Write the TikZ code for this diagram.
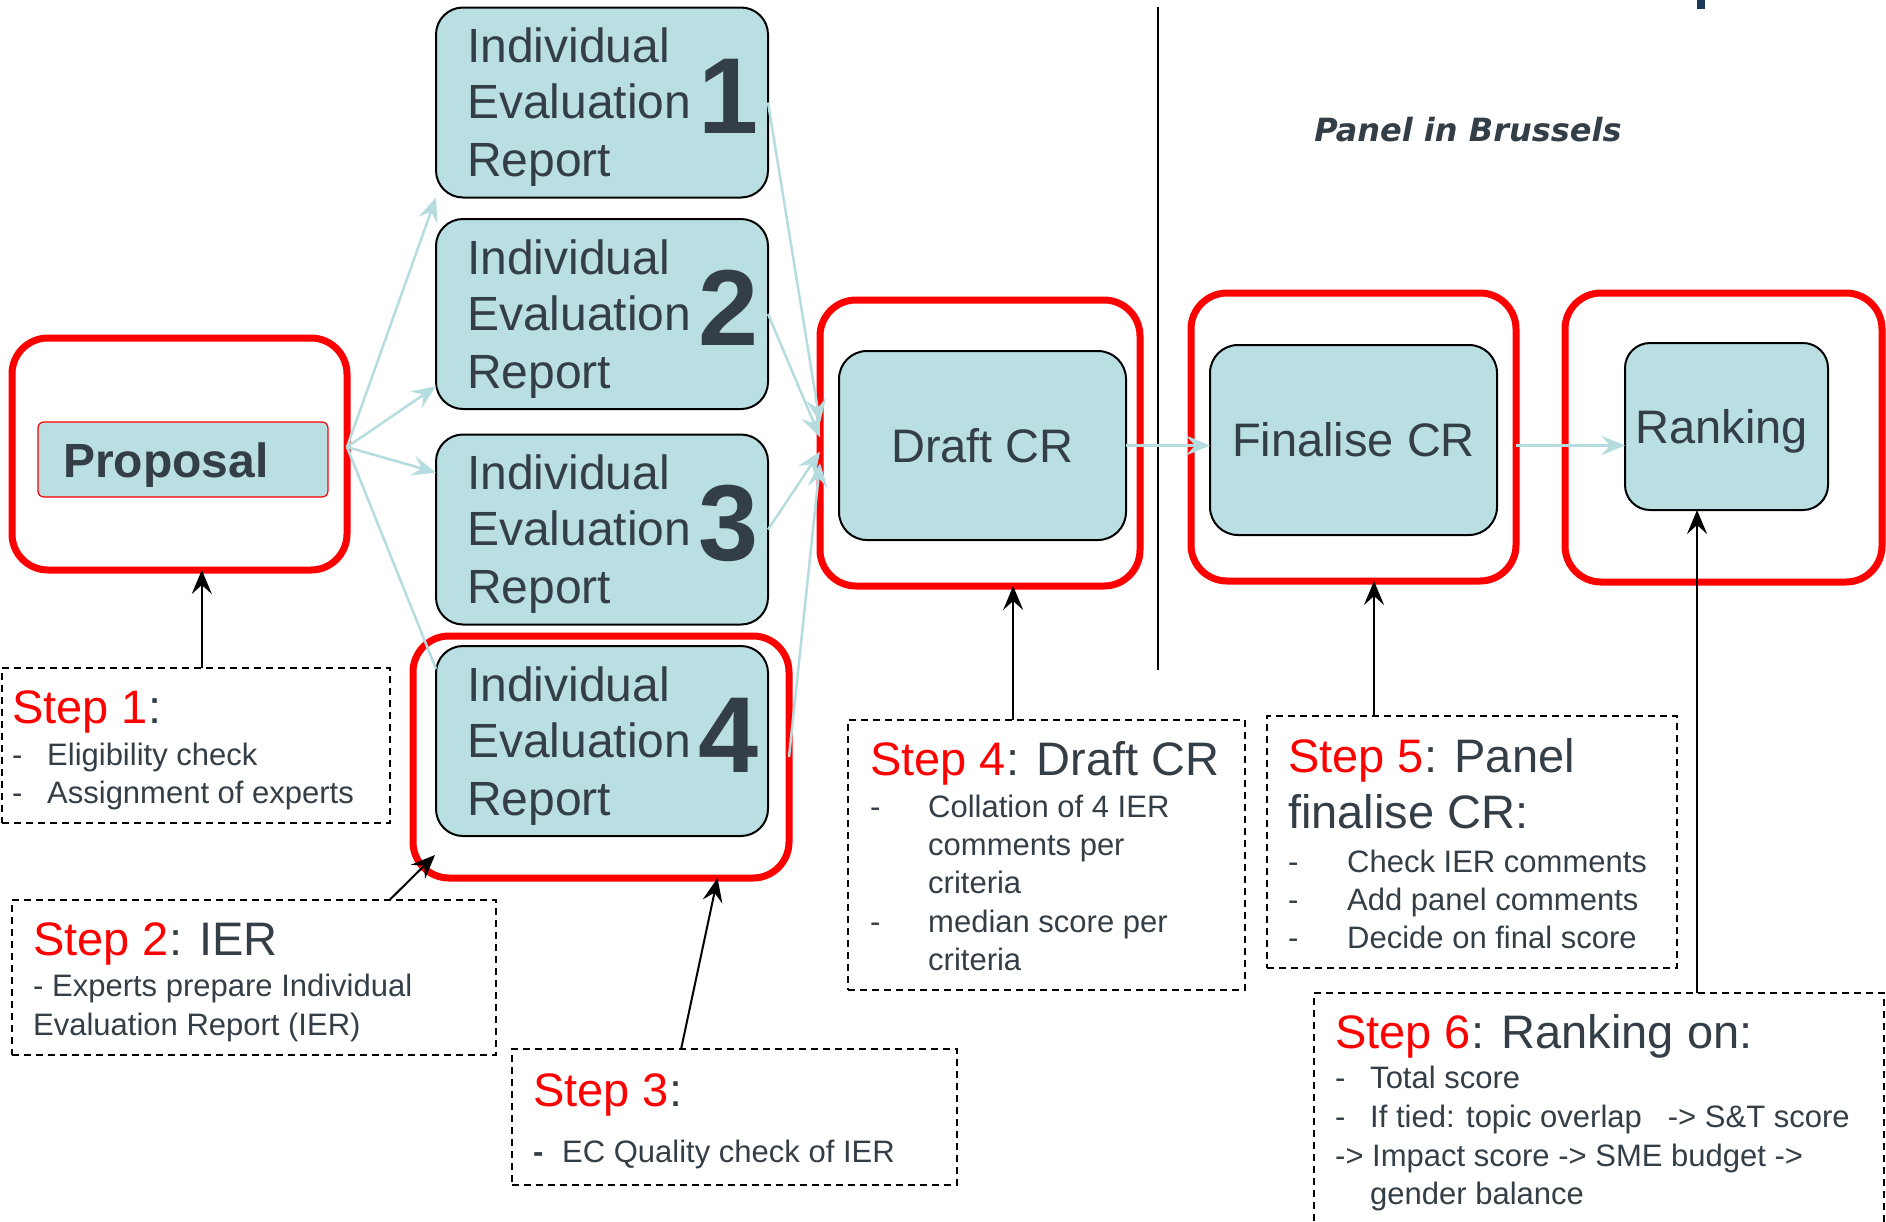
\documentclass[tikz,border=0pt]{standalone}
\usepackage{fontspec}
\setmainfont{Liberation Sans}
\newfontfamily\panelfont{DejaVu Sans}
\usetikzlibrary{calc,arrows.meta}
\definecolor{txt}{HTML}{343E46}
\definecolor{stepred}{HTML}{FF0000}
\definecolor{boxfill}{HTML}{B9DFE2}
\definecolor{flow}{HTML}{B5DCDF}
\definecolor{navy}{HTML}{1C3B5A}
\newcommand{\myfs}[1]{\fontsize{#1}{#1}\selectfont}
\tikzset{
  redbox/.style={draw=stepred, line width=7pt, rounded corners=36pt, inner sep=0pt, outer sep=0pt},
  ierbox/.style={draw=black, line width=2pt, fill=boxfill, rounded corners=27pt, inner sep=0pt, outer sep=0pt, minimum width=332pt, minimum height=190pt},
  crbox/.style={draw=black, line width=2pt, fill=boxfill, rounded corners=28pt, inner sep=0pt, outer sep=0pt, text=txt, font=\myfs{47}},
  stepbox/.style={draw=black, line width=1.8pt, dash pattern=on 7pt off 5pt, inner sep=0pt, outer sep=0pt},
  flowarrow/.style={draw=flow, line width=2.5pt, -{Stealth[length=24pt,width=20pt,inset=9pt]}},
  flowline/.style={draw=flow, line width=2.5pt},
  blackarrow/.style={draw=black, line width=2pt, -{Stealth[length=24pt,width=20pt,inset=9pt]}},
  iertext/.style={anchor=base west, inner sep=0pt, text=txt, font=\myfs{48}},
  iernum/.style={inner sep=0pt, text=txt, font=\myfs{108}\bfseries},
  head/.style={anchor=base west, inner sep=0pt, text=txt, font=\myfs{47}},
  body/.style={anchor=base west, inner sep=0pt, text=txt, font=\myfs{31}},
}
\begin{document}
\begin{tikzpicture}[x=1pt,y=-1pt]
\useasboundingbox (0,0) rectangle (1886,1221);

% title fragment
\fill[navy] (1697,0) rectangle (1705,9);

% divider
\coordinate (dv1) at (1158,7);
\coordinate (dv2) at (1158,670);
\draw[line width=1.6pt] (dv1) -- (dv2);

% Panel in Brussels
\node[inner sep=0pt, text=txt, font=\panelfont\myfs{32}\bfseries\itshape] (panel) at (1468,130) {Panel in Brussels};

% Proposal
\node[redbox, minimum width=335pt, minimum height=232pt] (propO) at (179.5,454) {};
\node[draw=stepred, line width=1.2pt, fill=boxfill, rounded corners=6pt, inner sep=0pt, outer sep=0pt, minimum width=290pt, minimum height=75pt] (propI) at (183,459.5) {};
\node[anchor=base west, inner sep=0pt, text=txt, font=\myfs{48}\bfseries] (propT) at (63,477) {Proposal};

% IER boxes
\node[ierbox] (ier1) at (602,102.5) {};
\node[ierbox] (ier2) at (602,314) {};
\node[ierbox] (ier3) at (602,529.5) {};
\node[ierbox] (ier4) at (602,741) {};
\node[redbox, minimum width=376pt, minimum height=242pt] (ier4O) at (601,757) {};
\foreach \i in {1,...,4}{
  \node[iertext] (ier\i-a) at ($(ier\i.north west)+(31,55)$) {Individual};
  \node[iertext] (ier\i-b) at ($(ier\i.north west)+(31,111)$) {Evaluation};
  \node[iertext] (ier\i-c) at ($(ier\i.north west)+(31,169)$) {Report};
  \node[iernum] (ier\i-n) at ($(ier\i.center)+(127,-6)$) {\i};
}

% CR boxes
\node[redbox, minimum width=320pt, minimum height=286pt] (draftO) at (980,443) {};
\node[crbox, minimum width=287pt, minimum height=189pt] (draftI) at (982.5,445.5) {Draft CR};
\node[redbox, minimum width=325pt, minimum height=288pt] (finO) at (1353.5,437) {};
\node[crbox, minimum width=287pt, minimum height=190pt] (finI) at (1353.5,440) {Finalise CR};
\node[redbox, minimum width=317pt, minimum height=289pt] (rankO) at (1723.5,437.5) {};
\node[crbox, rounded corners=25pt, minimum width=203pt, minimum height=167pt] (rankI) at (1726.5,426.5) {};
\node[anchor=base, inner sep=0pt, text=txt, font=\myfs{47}] (rankT) at ($(rankI.center)+(-5,16.5)$) {Ranking};

% light blue flow
\coordinate (ps) at ($(propO.north east)!0.47!(propO.south east)$);
\draw[flowarrow] (ps) -- (ier1.south west);
\draw[flowarrow] (ps) -- ($(ier2.north west)!0.88!(ier2.south west)$);
\draw[flowarrow] (ps) -- ($(ier3.north west)!0.2!(ier3.south west)$);
\draw[flowline] (ps) -- ($(ier4.north west)!0.12!(ier4.south west)$);
\draw[flowarrow] (ier1.east) -- ($(draftO.north west)!0.43!(draftO.south west)$);
\draw[flowarrow] (ier2.east) -- ($(draftO.north west)!0.48!(draftO.south west)$);
\draw[flowarrow] ($(ier3.north east)!0.5!(ier3.south east)$) -- ($(draftO.north west)!0.53!(draftO.south west)$);
\draw[flowarrow] (ier4O.east) -- ($(draftO.north west)!0.57!(draftO.south west)$);
\draw[flowarrow] (draftI.east) -- (finI.west |- draftI.east);
\draw[flowarrow] (finO.east |- draftI.east) -- (rankI.west |- draftI.east);

% step boxes
\node[stepbox, minimum width=388pt, minimum height=155pt] (s1) at (196,745.5) {};
\node[stepbox, minimum width=484pt, minimum height=155pt] (s2) at (254,977.5) {};
\node[stepbox, minimum width=445pt, minimum height=136pt] (s3) at (734.5,1117) {};
\node[stepbox, minimum width=397pt, minimum height=270pt] (s4) at (1046.5,855) {};
\node[stepbox, minimum width=410pt, minimum height=252pt] (s5) at (1472,842) {};
\node[stepbox, minimum width=570pt, minimum height=247pt] (s6) at (1599,1116.5) {};

% black arrows
\coordinate (a1) at ($(s1.north west)!0.515!(s1.north east)$);
\draw[blackarrow] (a1) -- (a1 |- propO.south);
\coordinate (a2) at ($(s2.north west)!0.78!(s2.north east)$);
\draw[blackarrow] (a2) -- ($(ier4O.south west)+(22,-23)$);
\coordinate (a3) at ($(s3.north west)!0.38!(s3.north east)$);
\draw[blackarrow] (a3) -- ($(ier4O.south west)!0.81!(ier4O.south east)$);
\coordinate (a4) at ($(s4.north west)!0.416!(s4.north east)$);
\draw[blackarrow] (a4) -- (a4 |- draftO.south);
\coordinate (a5) at ($(s5.north west)!0.261!(s5.north east)$);
\draw[blackarrow] (a5) -- (a5 |- finO.south);
\coordinate (a6) at ($(s6.north west)!0.672!(s6.north east)$);
\draw[blackarrow] (a6) -- (a6 |- rankI.south);

% step 1
\node[head] (s1h) at (12,723) {\textcolor{stepred}{Step 1}:};
\node[body] (s1d1) at (12,765) {-};
\node[body] (s1l1) at (47,765) {Eligibility check};
\node[body] (s1d2) at (12,803) {-};
\node[body] (s1l2) at (47,803) {Assignment of experts};
% step 2
\node[head] (s2h) at (33,955) {\textcolor{stepred}{Step 2}: IER};
\node[body] (s2l1) at (33,996) {- Experts prepare Individual};
\node[body] (s2l2) at (33,1035) {Evaluation Report (IER)};
% step 3
\node[head] (s3h) at (533,1106) {\textcolor{stepred}{Step 3}:};
\node[body, font=\myfs{31}\bfseries] (s3d1) at (533,1162) {-};
\node[body] (s3l1) at (562,1162) {EC Quality check of IER};
% step 4
\node[head] (s4h) at (870,775) {\textcolor{stepred}{Step 4}: Draft CR};
\node[body] (s4d1) at (870,817) {-};
\node[body] (s4l1) at (928,817) {Collation of 4 IER};
\node[body] (s4l2) at (928,855) {comments per};
\node[body] (s4l3) at (928,893) {criteria};
\node[body] (s4d2) at (870,932) {-};
\node[body] (s4l4) at (928,932) {median score per};
\node[body] (s4l5) at (928,970) {criteria};
% step 5
\node[head] (s5h) at (1288,772) {\textcolor{stepred}{Step 5}: Panel};
\node[head] (s5h2) at (1288,828) {finalise CR:};
\node[body] (s5d1) at (1288,872) {-};
\node[body] (s5l1) at (1347,872) {Check IER comments};
\node[body] (s5d2) at (1288,910) {-};
\node[body] (s5l2) at (1347,910) {Add panel comments};
\node[body] (s5d3) at (1288,948) {-};
\node[body] (s5l3) at (1347,948) {Decide on final score};
% step 6
\node[head] (s6h) at (1335,1048) {\textcolor{stepred}{Step 6}: Ranking on:};
\node[body] (s6d1) at (1335,1088) {-};
\node[body] (s6l1) at (1370,1088) {Total score};
\node[body] (s6d2) at (1335,1127) {-};
\node[body] (s6l2) at (1370,1127) {If tied: topic overlap\hspace{26pt}-> S\&T score};
\node[body] (s6l3) at (1335,1166) {-> Impact score -> SME budget ->};
\node[body] (s6l4) at (1370,1204) {gender balance};
\end{tikzpicture}
\end{document}
